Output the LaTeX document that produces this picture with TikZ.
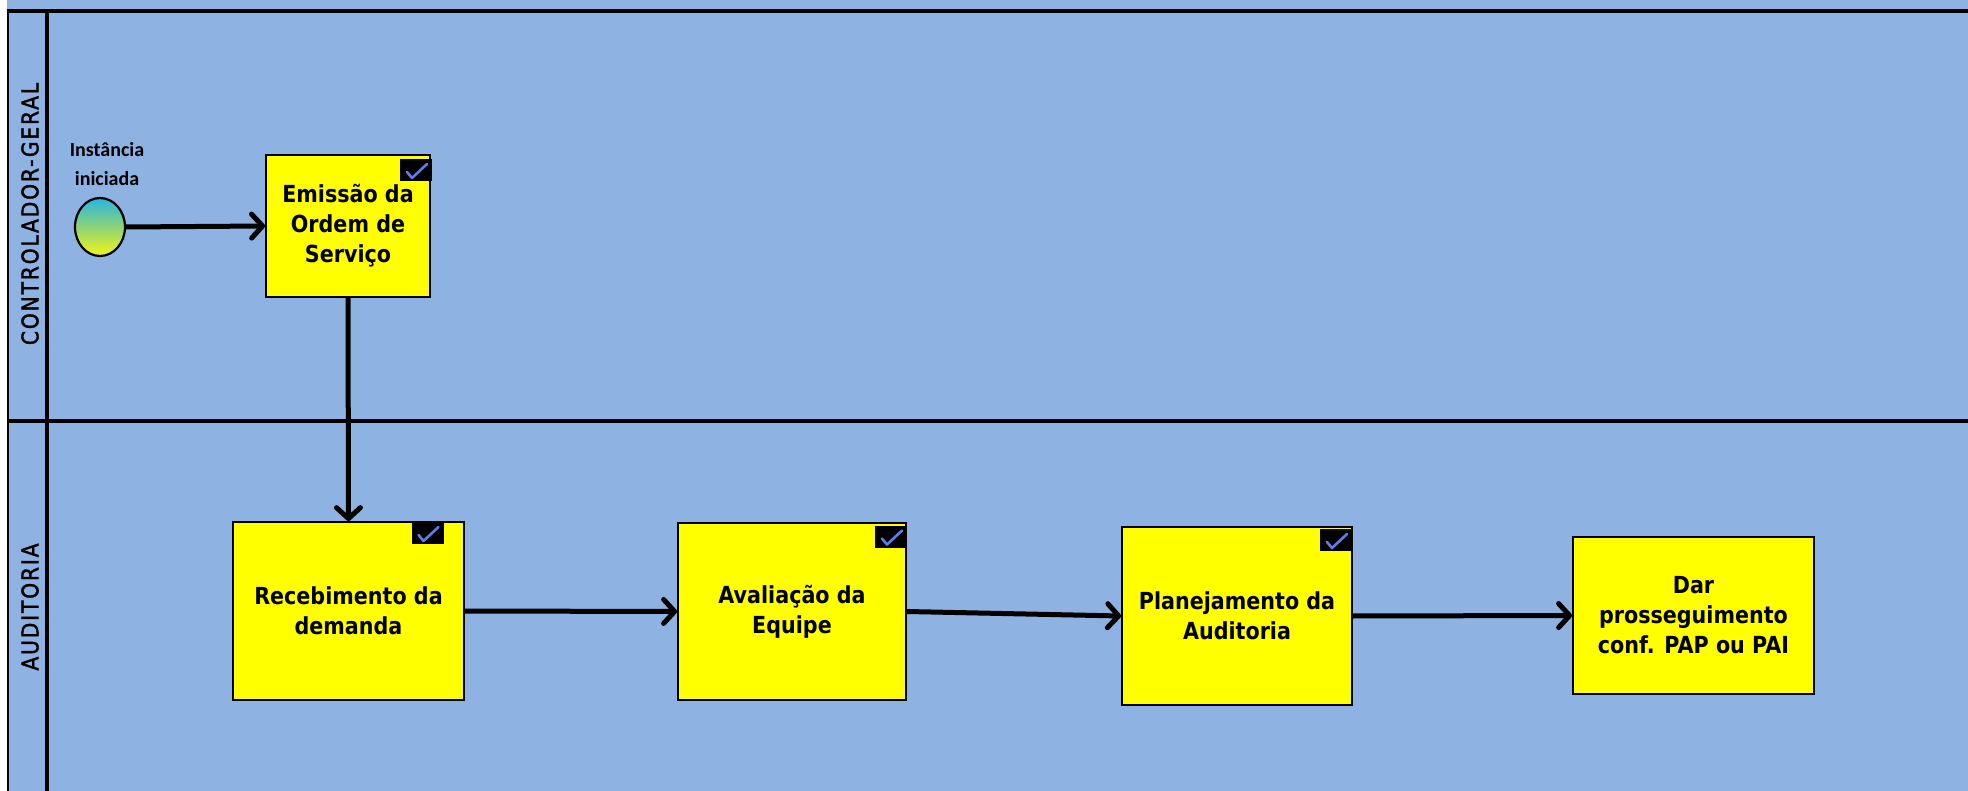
\documentclass[tikz,border=0pt]{standalone}
\usepackage{fontspec}
\usetikzlibrary{arrows.meta,shapes.geometric,calc}
\newfontfamily\boxfont[FakeStretch=0.88]{DejaVu Sans}
\newfontfamily\lanefont[LetterSpace=8,FakeStretch=0.88,FakeBold=1.6]{DejaVu Sans}
\newfontfamily\evfont{Carlito}
\definecolor{lanebg}{RGB}{142,178,226}
\definecolor{taskyellow}{RGB}{255,255,0}
\definecolor{chkblue}{RGB}{95,125,230}
\definecolor{evtop}{RGB}{40,182,222}
\definecolor{evmid}{RGB}{140,212,120}
\definecolor{evbot}{RGB}{245,245,20}
\tikzset{
  task/.style={draw=black, line width=1.8pt, fill=taskyellow, align=center,
    font=\boxfont\bfseries\fontsize{23.5}{30}\selectfont, inner sep=0pt},
  chkbox/.style={fill=black, minimum width=32pt, minimum height=22pt, inner sep=0pt},
  chkmark/.style={draw=chkblue, line width=2.6pt, line cap=round, line join=round},
  flow/.style={line width=5pt, -{Straight Barb[length=11pt,width=24pt,round]}},
  lanelbl/.style={rotate=90, font=\lanefont\fontsize{23}{30}\selectfont, inner sep=0pt},
  lanerule/.style={draw=black, line width=3.5pt},
  startev/.style={ellipse, draw=black, line width=2.2pt, minimum width=50pt, minimum height=58pt,
    top color=evtop, bottom color=evbot, middle color=evmid, inner sep=0pt},
  evlabel/.style={font=\evfont\bfseries\fontsize{20}{29}\selectfont, align=center, inner sep=0pt}
}
\begin{document}
\begin{tikzpicture}[x=1pt,y=-1pt]
\useasboundingbox (0,0) rectangle (1968,791);
\fill[white] (0,0) rectangle (1968,791);
\fill[lanebg] (7,0) rectangle (1968,791);
% pool / lane lines
\draw[line width=4.5pt] (7,11) -- (1968,11);
\draw[line width=2pt] (7.5,11) -- (7.5,791);
\draw[lanerule] (47,11) -- (47,791);
\draw[lanerule] (7,421) -- (1968,421);
% lane labels
\node[lanelbl] (lane1) at (30,214) {CONTROLADOR-GERAL};
\node[lanelbl] (lane2) at (30,607) {AUDITORIA};
% start event
\node[startev] (start) at (100,227) {};
\node[evlabel] (startlbl) at (107,164) {Instância\\iniciada};
% tasks
\node[task, minimum width=164pt, minimum height=142pt] (emi) at (348,226) {Emissão da\\Ordem de\\Serviço};
\node[task, minimum width=231pt, minimum height=178pt] (rec) at (348.5,611) {Recebimento da\\demanda};
\node[task, minimum width=228pt, minimum height=177pt] (ava) at (792,611.5) {Avaliação da\\Equipe};
\node[task, minimum width=230pt, minimum height=178pt] (pla) at (1237,616) {Planejamento da\\Auditoria};
\node[task, minimum width=241pt, minimum height=157pt] (dar) at (1693.5,615.5) {Dar\\prosseguimento\\conf. PAP ou PAI};
% check icons
\node[chkbox] (k1) at (416,170) {};
\node[chkbox] (k2) at (427.5,533) {};
\node[chkbox] (k3) at (891,536.5) {};
\node[chkbox] (k4) at (1336,540) {};
\foreach \k in {k1,k2,k3,k4}{
  \draw[chkmark] ($(\k.center)+(-9,2)$) -- ++(5,6) -- ++(15,-14);
}
% connectors
\draw[flow] (start.east) -- (emi.west);
\draw[flow] (emi.south) -- (rec.north);
\draw[flow] (rec.east) -- (ava.west);
\draw[flow] (ava.east) -- (pla.west);
\draw[flow] (pla.east) -- (dar.west);
\end{tikzpicture}
\end{document}
